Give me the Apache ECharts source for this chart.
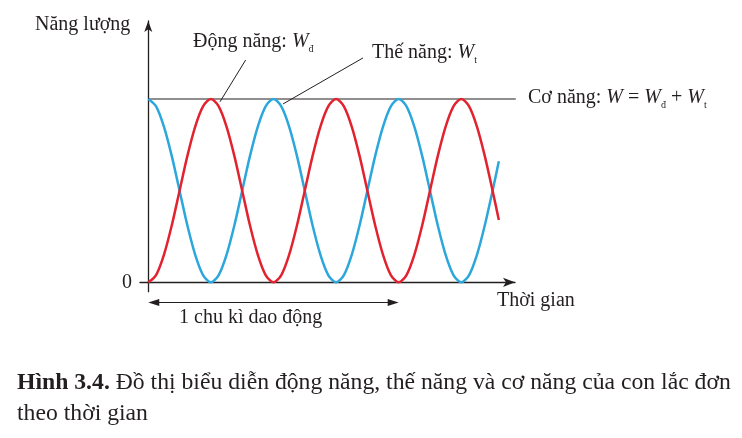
<!DOCTYPE html>
<html><head><meta charset="utf-8">
<script src="https://cdn.jsdelivr.net/npm/echarts@6/dist/echarts.min.js"></script>
<style>html,body{margin:0;padding:0;background:#fff}#c{width:742px;height:438px}</style>
</head><body><div id="c"></div>
<script>
// time in units of the energy period (half an oscillation period)
const times = [0,0.0625,0.125,0.1875,0.25,0.3125,0.375,0.4375,0.5,0.5625,0.625,0.6875,0.75,0.8125,0.875,0.9375,
  1,1.0625,1.125,1.1875,1.25,1.3125,1.375,1.4375,1.5,1.5625,1.625,1.6875,1.75,1.8125,1.875,1.9375,
  2,2.0625,2.125,2.1875,2.25,2.3125,2.375,2.4375,2.5,2.5625,2.625,2.6875,2.75,2.8];
const kinetic = [0,0.04,0.15,0.31,0.5,0.69,0.85,0.96,1,0.96,0.85,0.69,0.5,0.31,0.15,0.04,
  0,0.04,0.15,0.31,0.5,0.69,0.85,0.96,1,0.96,0.85,0.69,0.5,0.31,0.15,0.04,
  0,0.04,0.15,0.31,0.5,0.69,0.85,0.96,1,0.96,0.85,0.69,0.5,0.34];
const potential = [1,0.96,0.85,0.69,0.5,0.31,0.15,0.04,0,0.04,0.15,0.31,0.5,0.69,0.85,0.96,
  1,0.96,0.85,0.69,0.5,0.31,0.15,0.04,0,0.04,0.15,0.31,0.5,0.69,0.85,0.96,
  1,0.96,0.85,0.69,0.5,0.31,0.15,0.04,0,0.04,0.15,0.31,0.5,0.66];
const totalTimes = [0, 2.935];
const totalEnergy = [1, 1];
const yTicks = [0];
const oscillationSpan = [0, 2];

const FONT = '"Liberation Serif","Times New Roman",serif';
const INK = '#231f20';
const RED = '#e2232f';
const BLUE = '#2ca7dc';

const zip = (a, b) => a.map((v, i) => [v, b[i]]);

const chart = echarts.init(document.getElementById('c'), null, {renderer: 'canvas'});
chart.setOption({
  animation: false,
  backgroundColor: '#fff',
  grid: {left: 140, right: 227, top: 21, bottom: 146.3},
  xAxis: {
    type: 'value', min: -0.066, max: 2.929,
    axisLine: {onZero: true, symbol: ['none', 'arrow'], symbolSize: [7, 12], lineStyle: {color: INK, width: 1.3}},
    axisTick: {show: false}, axisLabel: {show: false}, splitLine: {show: false}
  },
  yAxis: {
    type: 'value', min: -0.051, max: 1.4255,
    axisLine: {show: true, onZero: true, symbol: ['none', 'arrow'], symbolSize: [6, 11], lineStyle: {color: INK, width: 1.3}},
    axisTick: {show: false},
    axisLabel: {show: true, customValues: yTicks, margin: 8, fontFamily: FONT, fontSize: 20, color: INK},
    splitLine: {show: false}
  },
  series: [
    {name: 'Cơ năng', type: 'line', data: zip(totalTimes, totalEnergy), symbol: 'none', clip: false,
     lineStyle: {color: INK, width: 1.2}, z: 1},
    {name: 'Thế năng', type: 'line', data: zip(times, potential), smooth: 0.3, symbol: 'none',
     lineStyle: {color: BLUE, width: 2.5}, z: 2},
    {name: 'Động năng', type: 'line', data: zip(times, kinetic), smooth: 0.3, symbol: 'none',
     lineStyle: {color: RED, width: 2.5}, z: 3}
  ]
});

const P = (t, v) => chart.convertToPixel({gridIndex: 0}, [t, v]);
const txt = (x, y, text, rich, extra) => ({
  type: 'text', x: x, y: y, z: 10,
  style: Object.assign({text: text, rich: rich || {}, fill: INK, font: '20px ' + FONT,
    align: 'left', textAlign: 'left', verticalAlign: 'middle', textVerticalAlign: 'middle'}, extra || {})
});

const base = {fontFamily: FONT, fontSize: 20, lineHeight: 24, color: INK};
const richW = {
  a: base,
  w: Object.assign({}, base, {fontStyle: 'italic'}),
  s: {fontFamily: FONT, fontSize: 10, lineHeight: 10, color: INK, verticalAlign: 'bottom'}
};

const a0 = P(oscillationSpan[0], -0.11), a1 = P(oscillationSpan[1], -0.11);
const r0 = P(0.778, 1.213), r1 = P(0.573, 0.985);
const b0 = P(1.715, 1.224), b1 = P(1.076, 0.973);

chart.setOption({
  graphic: [
    txt(35, 25, 'Năng lượng'),
    txt(193, 42, '{a|Động năng: }{w|W}{s|đ}', richW),
    txt(372, 53, '{a|Thế năng: }{w|W}{s|t}', richW),
    txt(528, 98, '{a|Cơ năng: }{w|W}{a| = }{w|W}{s|đ}{a| + }{w|W}{s|t}', richW),
    txt(497, 301, 'Thời gian'),
    txt(179, 318, '1 chu kì dao động'),
    txt(17, 383, '{b|Hình 3.4.}{n| Đồ thị biểu diễn động năng, thế năng và cơ năng của con lắc đơn}', {
      b: {fontFamily: FONT, fontSize: 23.7, fontWeight: 'bold', color: INK},
      n: {fontFamily: FONT, fontSize: 23.7, color: INK}
    }),
    txt(17, 414, 'theo thời gian', null, {font: '23.7px ' + FONT}),
    {type: 'line', shape: {x1: r0[0], y1: r0[1], x2: r1[0], y2: r1[1]}, style: {stroke: INK, lineWidth: 1}, z: 10},
    {type: 'line', shape: {x1: b0[0], y1: b0[1], x2: b1[0], y2: b1[1]}, style: {stroke: INK, lineWidth: 1}, z: 10},
    {type: 'line', shape: {x1: a0[0] + 6, y1: a0[1], x2: a1[0] - 6, y2: a1[1]}, style: {stroke: INK, lineWidth: 1.2}, z: 10},
    {type: 'polygon', shape: {points: [[a0[0], a0[1]], [a0[0] + 11, a0[1] - 3.5], [a0[0] + 11, a0[1] + 3.5]]}, style: {fill: INK}, z: 10},
    {type: 'polygon', shape: {points: [[a1[0], a1[1]], [a1[0] - 11, a1[1] - 3.5], [a1[0] - 11, a1[1] + 3.5]]}, style: {fill: INK}, z: 10}
  ]
});
</script></body></html>
